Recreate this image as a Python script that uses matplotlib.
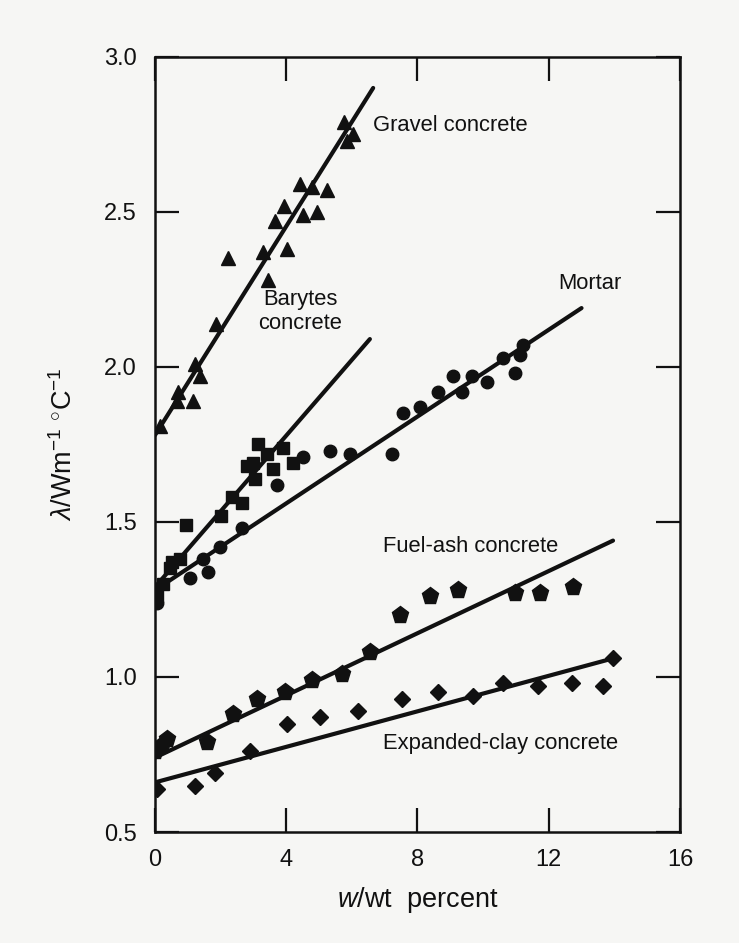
import matplotlib
matplotlib.use("Agg")
import matplotlib.pyplot as plt

plt.rcParams['font.family'] = ['Liberation Sans', 'DejaVu Sans']
plt.rcParams['mathtext.fontset'] = 'custom'
plt.rcParams['mathtext.rm'] = 'Liberation Sans'
plt.rcParams['mathtext.it'] = 'Liberation Sans:italic'

# ---- data ----
gravel_x = [0.15, 0.67, 0.71, 1.16, 1.22, 1.37, 1.86, 2.23, 3.30, 3.45, 3.66, 3.93, 4.02,
            4.42, 4.52, 4.78, 4.94, 5.25, 5.76, 5.84, 6.04]
gravel_y = [1.81, 1.89, 1.92, 1.89, 2.01, 1.97, 2.14, 2.35, 2.37, 2.28, 2.47, 2.52, 2.38,
            2.59, 2.49, 2.58, 2.50, 2.57, 2.79, 2.73, 2.75]
gravel_line_x = [0.0, 6.65]
gravel_line_y = [1.78, 2.90]

barytes_x = [0.05, 0.25, 0.46, 0.52, 0.76, 0.95, 2.00, 2.36, 2.65, 2.79, 2.99, 3.05, 3.15,
             3.41, 3.61, 3.91, 4.22]
barytes_y = [1.26, 1.30, 1.35, 1.37, 1.38, 1.49, 1.52, 1.58, 1.56, 1.68, 1.69, 1.64, 1.75,
             1.72, 1.67, 1.74, 1.69]
barytes_line_x = [0.0, 6.55]
barytes_line_y = [1.29, 2.09]

mortar_x = [0.05, 1.07, 1.46, 1.62, 1.98, 2.65, 3.71, 4.52, 5.34, 5.95, 7.22, 7.56, 8.08,
            8.63, 9.09, 9.36, 9.66, 10.12, 10.61, 10.98, 11.13, 11.22]
mortar_y = [1.24, 1.32, 1.38, 1.34, 1.42, 1.48, 1.62, 1.71, 1.73, 1.72, 1.72, 1.85, 1.87,
            1.92, 1.97, 1.92, 1.97, 1.95, 2.03, 1.98, 2.04, 2.07]
mortar_line_x = [0.0, 13.0]
mortar_line_y = [1.28, 2.19]

fuelash_x = [0.0, 0.2, 0.36, 1.58, 2.38, 3.10, 3.96, 4.79, 5.70, 6.55, 7.47, 8.38, 9.24,
             10.98, 11.74, 12.74]
fuelash_y = [0.76, 0.78, 0.80, 0.79, 0.88, 0.93, 0.95, 0.99, 1.01, 1.08, 1.20, 1.26, 1.28,
             1.27, 1.27, 1.29]
fuelash_line_x = [0.0, 13.96]
fuelash_line_y = [0.74, 1.44]

clay_x = [0.05, 1.22, 1.83, 2.90, 4.02, 5.03, 6.19, 7.53, 8.62, 9.70, 10.61, 11.68, 12.71,
          13.66, 13.96]
clay_y = [0.64, 0.65, 0.69, 0.76, 0.85, 0.87, 0.89, 0.93, 0.95, 0.94, 0.98, 0.97, 0.98,
          0.97, 1.06]
clay_line_x = [0.0, 13.96]
clay_line_y = [0.66, 1.06]

labels = ["Gravel concrete", "Barytes\nconcrete", "Mortar", "Fuel-ash concrete",
          "Expanded-clay concrete"]

xticks = [0, 4, 8, 12, 16]
yticks = [0.5, 1.0, 1.5, 2.0, 2.5, 3.0]

# ---- figure ----
bg = '#f6f6f4'
fig = plt.figure(figsize=(7.39, 9.43), dpi=100, facecolor=bg)
ax = fig.add_axes([0.2097, 0.1177, 0.7104, 0.8219], facecolor=bg)

ink = '#111111'
lw = 3.0
for lx, ly in [(gravel_line_x, gravel_line_y), (barytes_line_x, barytes_line_y),
               (mortar_line_x, mortar_line_y), (fuelash_line_x, fuelash_line_y),
               (clay_line_x, clay_line_y)]:
    ax.plot(lx, ly, color=ink, lw=lw, solid_capstyle='round')

ax.plot(gravel_x, gravel_y, linestyle='none', marker='^', ms=10.5, color=ink)
ax.plot(barytes_x, barytes_y, linestyle='none', marker='s', ms=9, color=ink)
ax.plot(mortar_x, mortar_y, linestyle='none', marker='o', ms=9, color=ink)
ax.plot(fuelash_x, fuelash_y, linestyle='none', marker='p', ms=12.5, color=ink)
ax.plot(clay_x, clay_y, linestyle='none', marker='D', ms=8.5, color=ink)

fs = 15.8
ax.text(6.65, 2.78, labels[0], fontsize=fs, ha='left', va='center', color=ink)
ax.text(4.42, 2.18, labels[1], fontsize=fs, ha='center', va='center', color=ink,
        linespacing=1.2)
ax.text(12.29, 2.27, labels[2], fontsize=fs, ha='left', va='center', color=ink)
ax.text(6.95, 1.42, labels[3], fontsize=fs, ha='left', va='center', color=ink)
ax.text(6.95, 0.787, labels[4], fontsize=fs, ha='left', va='center', color=ink)

ax.set_xlim(0, 16)
ax.set_ylim(0.5, 3.0)
ax.set_xticks(xticks)
ax.set_yticks(yticks)
ax.set_xticklabels([str(t) for t in xticks])
ax.set_yticklabels([f"{t:.1f}" for t in yticks])
ax.tick_params(direction='in', length=17, width=1.6, top=True, right=True,
               labelsize=17, colors=ink)
ax.tick_params(axis='y', pad=13)
ax.tick_params(axis='x', pad=12)
for s in ax.spines.values():
    s.set_linewidth(1.8)
    s.set_color(ink)

ax.set_xlabel(r'$w$/wt  percent', fontsize=19.5, color=ink, labelpad=10)
ax.set_ylabel(r'$\lambda$/Wm$^{-1}$ $^{\circ}$C$^{-1}$', fontsize=19.5, color=ink,
              labelpad=19)

fig.savefig('out.png', dpi=100, facecolor=bg)
